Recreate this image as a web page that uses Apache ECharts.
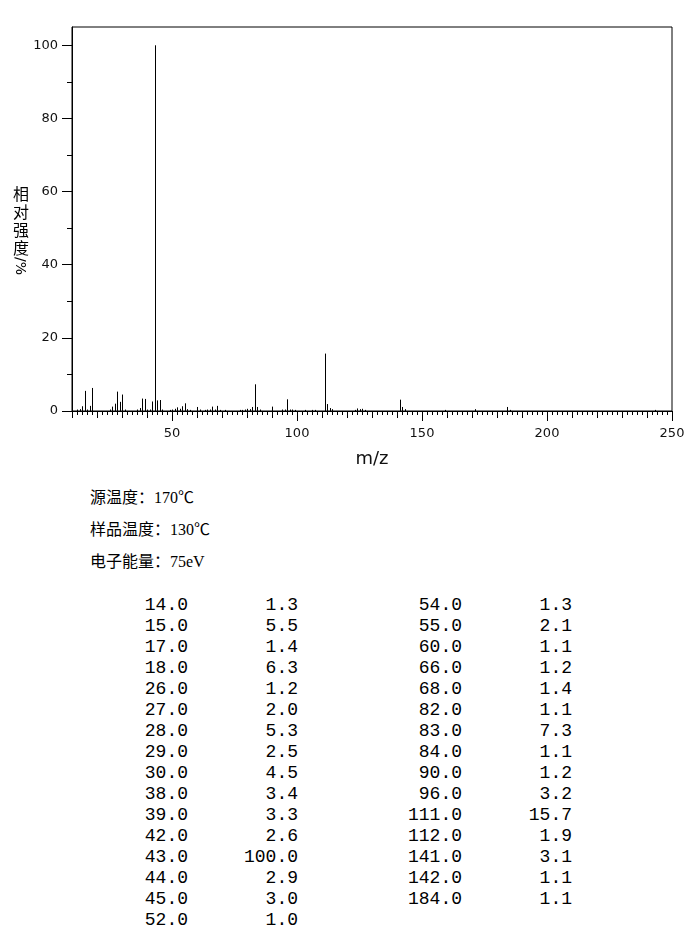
<!DOCTYPE html>
<html>
<head>
<meta charset="utf-8">
<script src="https://cdn.jsdelivr.net/npm/echarts@6/dist/echarts.min.js"></script>
<style>
html,body{margin:0;padding:0;background:#fff;}
#wrap{position:relative;width:696px;height:950px;overflow:hidden;}
#chart{position:absolute;left:0;top:0;width:696px;height:480px;}
.t{position:absolute;white-space:pre;color:#000;}
.info{font-family:"Liberation Serif","Noto Sans CJK SC",serif;font-size:16px;line-height:20px;height:20px;left:90px;}
.info .c{font-family:"Noto Sans CJK SC",sans-serif;}
.num{font-family:"Liberation Mono","DejaVu Sans Mono",monospace;font-size:18px;line-height:21px;height:21px;text-align:right;width:120px;}
#yname{position:absolute;left:12px;top:184px;width:18px;font-family:"Noto Sans CJK SC",sans-serif;font-size:16px;color:#000;}
#yname .ch{display:block;height:18px;line-height:18px;text-align:center;}
#yname .rot{display:block;width:18px;height:20px;position:relative;}
#yname .rot span{position:absolute;left:50%;top:50%;transform:translate(-50%,-50%) rotate(90deg);white-space:pre;line-height:16px;font-family:"DejaVu Sans",sans-serif;font-size:14px;}
</style>
</head>
<body>
<div id="wrap">
<div id="chart"></div>
<div id="yname"><span class="ch">相</span><span class="ch">对</span><span class="ch">强</span><span class="ch">度</span><span class="rot"><span>/%</span></span></div>
</div>
<script>
// Peaks listed in the table (m/z, relative intensity %)
const tableMz  = [14,15,17,18,26,27,28,29,30,38,39,42,43,44,45,52,54,55,60,66,68,82,83,84,90,96,111,112,141,142,184];
const tableInt = [1.3,5.5,1.4,6.3,1.2,2.0,5.3,2.5,4.5,3.4,3.3,2.6,100.0,2.9,3.0,1.0,1.3,2.1,1.1,1.2,1.4,1.1,7.3,1.1,1.2,3.2,15.7,1.9,3.1,1.1,1.1];
// Small peaks seen in the plot but not listed (estimated)
const minorMz  = [12,13,16,25,31,36,37,40,41,46,49,50,51,53,56,57,61,63,64,65,67,69,71,77,78,79,80,81,85,94,95,97,98,99,103,106,107,113,114,123,124,125,126,127,143,159,171,185,243];
const minorInt = [0.4,0.5,0.4,0.4,0.4,0.4,0.8,0.4,0.4,0.4,0.3,0.4,0.6,0.6,0.5,0.3,0.4,0.3,0.4,0.4,0.4,0.3,0.3,0.3,0.3,0.4,0.6,0.5,0.4,0.4,0.4,0.4,0.4,0.3,0.3,0.3,0.3,0.8,0.5,0.3,0.7,0.5,0.6,0.3,0.5,0.3,0.5,0.3,0.3];
// Axis ticks and labels
const xLabelTicks = [50,100,150,200,250];
const yLabelTicks = [0,20,40,60,80,100];
const yMinorTicks = [10,30,50,70,90];
const infoLines = [["源温度：","170℃"],["样品温度：","130℃"],["电子能量：","75eV"]];

const peaks = [];
tableMz.forEach((m,i)=>peaks.push([m,tableInt[i]]));
minorMz.forEach((m,i)=>peaks.push([m,minorInt[i]]));

const chart = echarts.init(document.getElementById('chart'), null, {renderer:'canvas'});
const axisFont = {fontFamily:'DejaVu Sans', fontSize:13, color:'#111'};
chart.setOption({
  animation:false,
  backgroundColor:'#fff',
  grid:[
    {left:72, top:27, width:600, height:384, show:true, borderColor:'#000', borderWidth:1, backgroundColor:'transparent'},
    {left:72, top:27, width:600, height:384, show:false}
  ],
  xAxis:[
    {gridIndex:0, type:'value', min:10, max:250, interval:10,
     axisLine:{show:true, onZero:false, lineStyle:{color:'#000', width:1}},
     axisTick:{show:true, length:7, lineStyle:{color:'#000'}},
     minorTick:{show:true, splitNumber:5, length:4, lineStyle:{color:'#000'}},
     axisLabel:{show:false}, splitLine:{show:false}, minorSplitLine:{show:false}},
    {gridIndex:1, type:'value', min:10, max:250, position:'bottom',
     axisLine:{show:false, onZero:false},
     axisTick:{show:true, length:10, customValues:xLabelTicks, lineStyle:{color:'#000'}},
     axisLabel:Object.assign({show:true, margin:16, customValues:xLabelTicks}, axisFont),
     splitLine:{show:false},
     name:'m/z', nameLocation:'middle', nameGap:39,
     nameTextStyle:{fontFamily:'DejaVu Sans', fontSize:18, color:'#111'}}
  ],
  yAxis:[
    {gridIndex:0, type:'value', min:0, max:105,
     axisLine:{show:true, onZero:false, lineStyle:{color:'#000', width:1}},
     axisTick:{show:true, length:10, customValues:yLabelTicks, lineStyle:{color:'#000'}},
     axisLabel:Object.assign({show:true, margin:14, customValues:yLabelTicks}, axisFont),
     splitLine:{show:false}},
    {gridIndex:1, type:'value', min:0, max:105, position:'left',
     axisLine:{show:false, onZero:false},
     axisTick:{show:true, length:5, customValues:yMinorTicks, lineStyle:{color:'#000'}},
     axisLabel:{show:false}, splitLine:{show:false}}
  ],
  series:[{
    type:'custom', xAxisIndex:0, yAxisIndex:0, data:peaks, clip:true,
    renderItem:function(params, api){
      const p0 = api.coord([api.value(0), 0]);
      const p1 = api.coord([api.value(0), api.value(1)]);
      const x = Math.round(p0[0]) + 0.5;
      return {type:'line', shape:{x1:x, y1:p0[1], x2:x, y2:p1[1]}, style:{stroke:'#000', lineWidth:1}};
    }
  }]
});

// Text below the chart
const wrap = document.getElementById('wrap');
infoLines.forEach((l,i)=>{
  const d = document.createElement('div');
  d.className = 't info';
  d.style.top = (486 + i*32) + 'px';
  d.innerHTML = '<span class="c">' + l[0] + '</span>' + l[1];
  wrap.appendChild(d);
});
function addNum(text, right, centerY){
  const d = document.createElement('div');
  d.className = 't num';
  d.style.left = (right - 120) + 'px';
  d.style.top = (centerY - 10.5) + 'px';
  d.textContent = text;
  wrap.appendChild(d);
}
const leftCount = 16;
tableMz.forEach((m,i)=>{
  const col = i < leftCount ? 0 : 1;
  const row = col === 0 ? i : i - leftCount;
  const cy = 605 + row*21;
  const r1 = col === 0 ? 188 : 462;
  const r2 = col === 0 ? 298 : 572;
  addNum(m.toFixed(1), r1, cy);
  addNum(tableInt[i].toFixed(1), r2, cy);
});
</script>
</body>
</html>
